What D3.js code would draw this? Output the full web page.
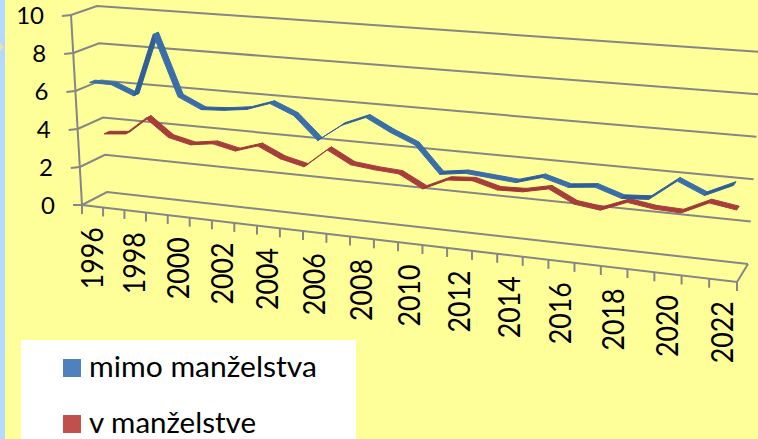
<!DOCTYPE html>
<html><head><meta charset="utf-8">
<script src="https://cdn.jsdelivr.net/npm/d3@7"></script>
<style>html,body{margin:0;padding:0;background:#FFFF99}svg{display:block}</style>
</head><body><svg id="c" width="758" height="439"></svg>
<script>
const years = d3.range(1996, 2023);
const labelYears = years.filter(y => y % 2 === 0);
const valueTicks = [0, 2, 4, 6, 8, 10];
const seriesNames = ["mimo manželstva", "v manželstve"];
const mimo = [6.39,6.38,5.9,9.2,6.06,5.51,5.58,5.74,6.15,5.65,4.5,5.38,5.89,5.26,4.75,3.42,3.6,3.5,3.4,3.78,3.43,3.57,3.16,3.25,4.25,3.7,4.31];
const vManz = [3.4,3.51,4.45,3.55,3.28,3.45,3.19,3.57,3.02,2.74,3.72,3.08,2.95,2.87,2.24,2.81,2.9,2.57,2.61,2.88,2.27,2.11,2.62,2.43,2.38,2.99,2.79];

// page position of the 3D box corners: [left/right][bottom/top][front/back]
const L00=[82,205],L01=[107,192],L10=[71,15],L11=[97,6];
const R00=[737,282],R01=[748,264],R10=[750,68],R11=[762,52];
const k=1.155; // horizontal foreshortening
const warp=u=>u/(k+(1-k)*u);
const mix=(a,b,t)=>[a[0]+(b[0]-a[0])*t,a[1]+(b[1]-a[1])*t];
const project=(u,v,d)=>{
  const w=warp(u);
  const l=mix(mix(L00,L01,d),mix(L10,L11,d),v);
  const r=mix(mix(R00,R01,d),mix(R10,R11,d),v);
  return mix(l,r,w);
};

const W=758,H=439;
const svg=d3.select("#c");
const uCat=d3.scaleLinear().domain([0,years.length]).range([0,1]);
const vS=d3.scaleLinear().domain([0,10]).range([0,1]);
const uSeries=d3.scaleLinear().domain([1996,2022]).range([uCat(0.45),uCat(26.6)]);
const line=d3.line();
const GRID="#868686";

svg.append("rect").attr("width",W).attr("height",H).attr("fill","#FFFF99");
svg.append("rect").attr("width",5).attr("height",H).attr("fill","#B3D9FF");
svg.append("path").attr("d","M0,43L4,47L0,51Z").attr("fill","#F0DFA8");

const g=svg.append("g").attr("fill","none").attr("stroke",GRID).attr("stroke-width",2);
valueTicks.forEach(t=>{
  const v=vS(t);
  g.append("path").attr("d",line([project(0,v,0),project(0,v,1),project(1,v,1)]));
  const p=project(0,v,0);
  g.append("path").attr("d",line([[p[0]-9,p[1]+(t===0?0:1)],p]));
});
g.append("path").attr("d",line([project(0,0,0),project(0,1,0)]));
g.append("path").attr("d",line([project(0,0,0),project(1,0,0),project(1,0,1)]));
d3.range(years.length+1).forEach(i=>{
  const p=project(uCat(i),0,0);
  g.append("path").attr("d",line([p,[p[0],p[1]+9]]));
});

function ribbon(values,d0,d1,fill,dark){
  const gg=svg.append("g");
  for(let i=0;i<values.length-1;i++){
    const a=[uSeries(years[i]),vS(values[i])],b=[uSeries(years[i+1]),vS(values[i+1])];
    const pts=[project(a[0],a[1],d0),project(b[0],b[1],d0),project(b[0],b[1],d1),project(a[0],a[1],d1)];
    const c=values[i+1]>values[i]?dark:fill;
    gg.append("path").attr("d",line(pts)+"Z").attr("fill",c).attr("stroke",c).attr("stroke-width",1).attr("stroke-linejoin","round");
  }
}
ribbon(vManz,0.64,0.86,"#A83E3C","#A03836");
ribbon(mimo,0.19,0.41,"#3A6EA8","#2F5F96");

const FONT="Lato, 'Noto Sans', sans-serif";
valueTicks.forEach(t=>{
  const p=project(0,vS(t),0);
  svg.append("text").attr("x",p[0]-27).attr("y",p[1]+9).attr("text-anchor","end")
    .attr("font-family",FONT).attr("font-size",24).attr("fill","#000").text(t);
});
labelYears.forEach(y=>{
  const p=project(uCat(y-1996+0.5),0,0);
  svg.append("text").attr("transform",`translate(${p[0]+10},${p[1]+21}) rotate(-90)`).attr("text-anchor","end")
    .attr("font-family",FONT).attr("font-size",30).attr("textLength",62).attr("lengthAdjust","spacingAndGlyphs").attr("fill","#000").text(y);
});

svg.append("rect").attr("x",21).attr("y",340).attr("width",335).attr("height",99).attr("fill","#fff");
const lx=d3.scaleOrdinal().domain(seriesNames).range(["#4F81BD","#C0504D"]);
const ly=d3.scaleOrdinal().domain(seriesNames).range([377,433]);
const lw=d3.scaleOrdinal().domain(seriesNames).range([228,167]);
seriesNames.forEach(n=>{
  svg.append("rect").attr("x",63).attr("y",ly(n)-18).attr("width",18).attr("height",18).attr("fill",lx(n));
  svg.append("text").attr("x",89).attr("y",ly(n)).attr("font-family",FONT).attr("font-size",28).attr("textLength",lw(n)).attr("lengthAdjust","spacingAndGlyphs").attr("fill","#000").text(n);
});
</script></body></html>
